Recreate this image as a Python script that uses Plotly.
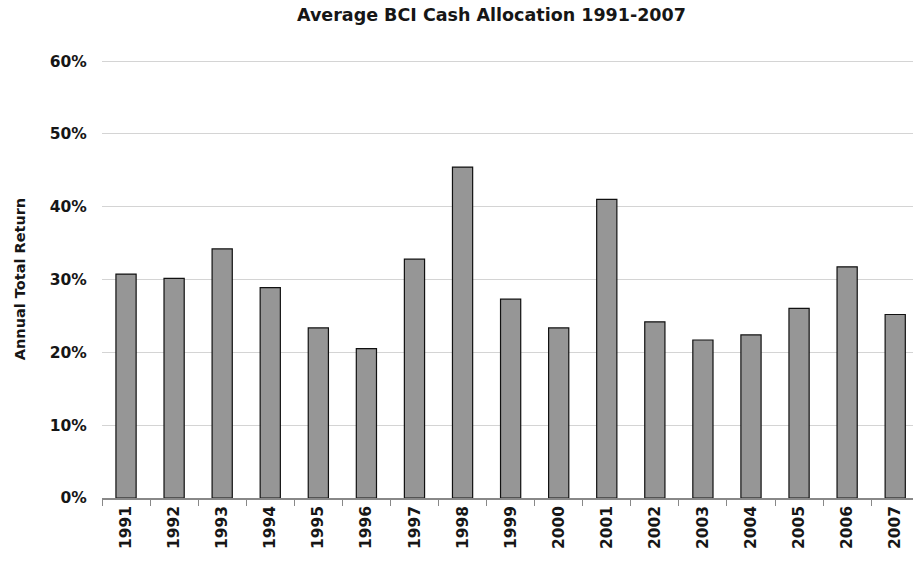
import plotly.graph_objects as go

years = ["1991", "1992", "1993", "1994", "1995", "1996", "1997", "1998", "1999",
         "2000", "2001", "2002", "2003", "2004", "2005", "2006", "2007"]
cash_alloc = [0.3075, 0.3016, 0.342, 0.289, 0.2335, 0.205, 0.328, 0.4545, 0.273,
              0.2335, 0.410, 0.242, 0.217, 0.224, 0.2605, 0.3175, 0.252]

title_text = "Average BCI Cash Allocation 1991-2007"
y_title = "Annual Total Return"
y_ticks = [0, 0.1, 0.2, 0.3, 0.4, 0.5, 0.6]

FONT = "DejaVu Sans"
TXT = "#161616"

fig = go.Figure()
fig.add_trace(go.Bar(
    x=years, y=cash_alloc, width=0.42,
    marker=dict(color="#969696", line=dict(color="#111111", width=1.2)),
))

fig.update_layout(
    width=913, height=564,
    margin=dict(l=102, r=0, t=60, b=66),
    paper_bgcolor="white", plot_bgcolor="white",
    showlegend=False,
    font=dict(family=FONT, size=15, color=TXT),
    annotations=[
        dict(text=title_text,
             x=(491 - 102) / (913 - 102), y=1 + (60 - 15) / 438,
             xref="paper", yref="paper", xanchor="center", yanchor="middle",
             showarrow=False,
             font=dict(family=FONT, size=17.5, color=TXT, weight="bold")),
    ],
)

fig.update_xaxes(
    type="category", range=[-0.5, 16.37],
    showline=True, linecolor="#888888", linewidth=1.5,
    ticks="outside", tickson="boundaries", ticklen=6, tickcolor="#888888",
    tickangle=-90, tickfont=dict(family=FONT, size=15.5, color=TXT, weight="bold"),
    showgrid=False,
)
fig.update_yaxes(
    range=[0, 0.6015], tickvals=y_ticks, tickformat=".0%",
    showgrid=True, gridcolor="#d4d4d4", gridwidth=1.2,
    zeroline=False, showline=False,
    ticks="outside", ticklen=11, tickcolor="rgba(0,0,0,0)",
    tickfont=dict(family=FONT, size=15.5, color=TXT, weight="bold"),
    title=dict(text=y_title, font=dict(family=FONT, size=14.5, color=TXT, weight="bold"),
               standoff=20),
)

fig.write_html("out.html")
